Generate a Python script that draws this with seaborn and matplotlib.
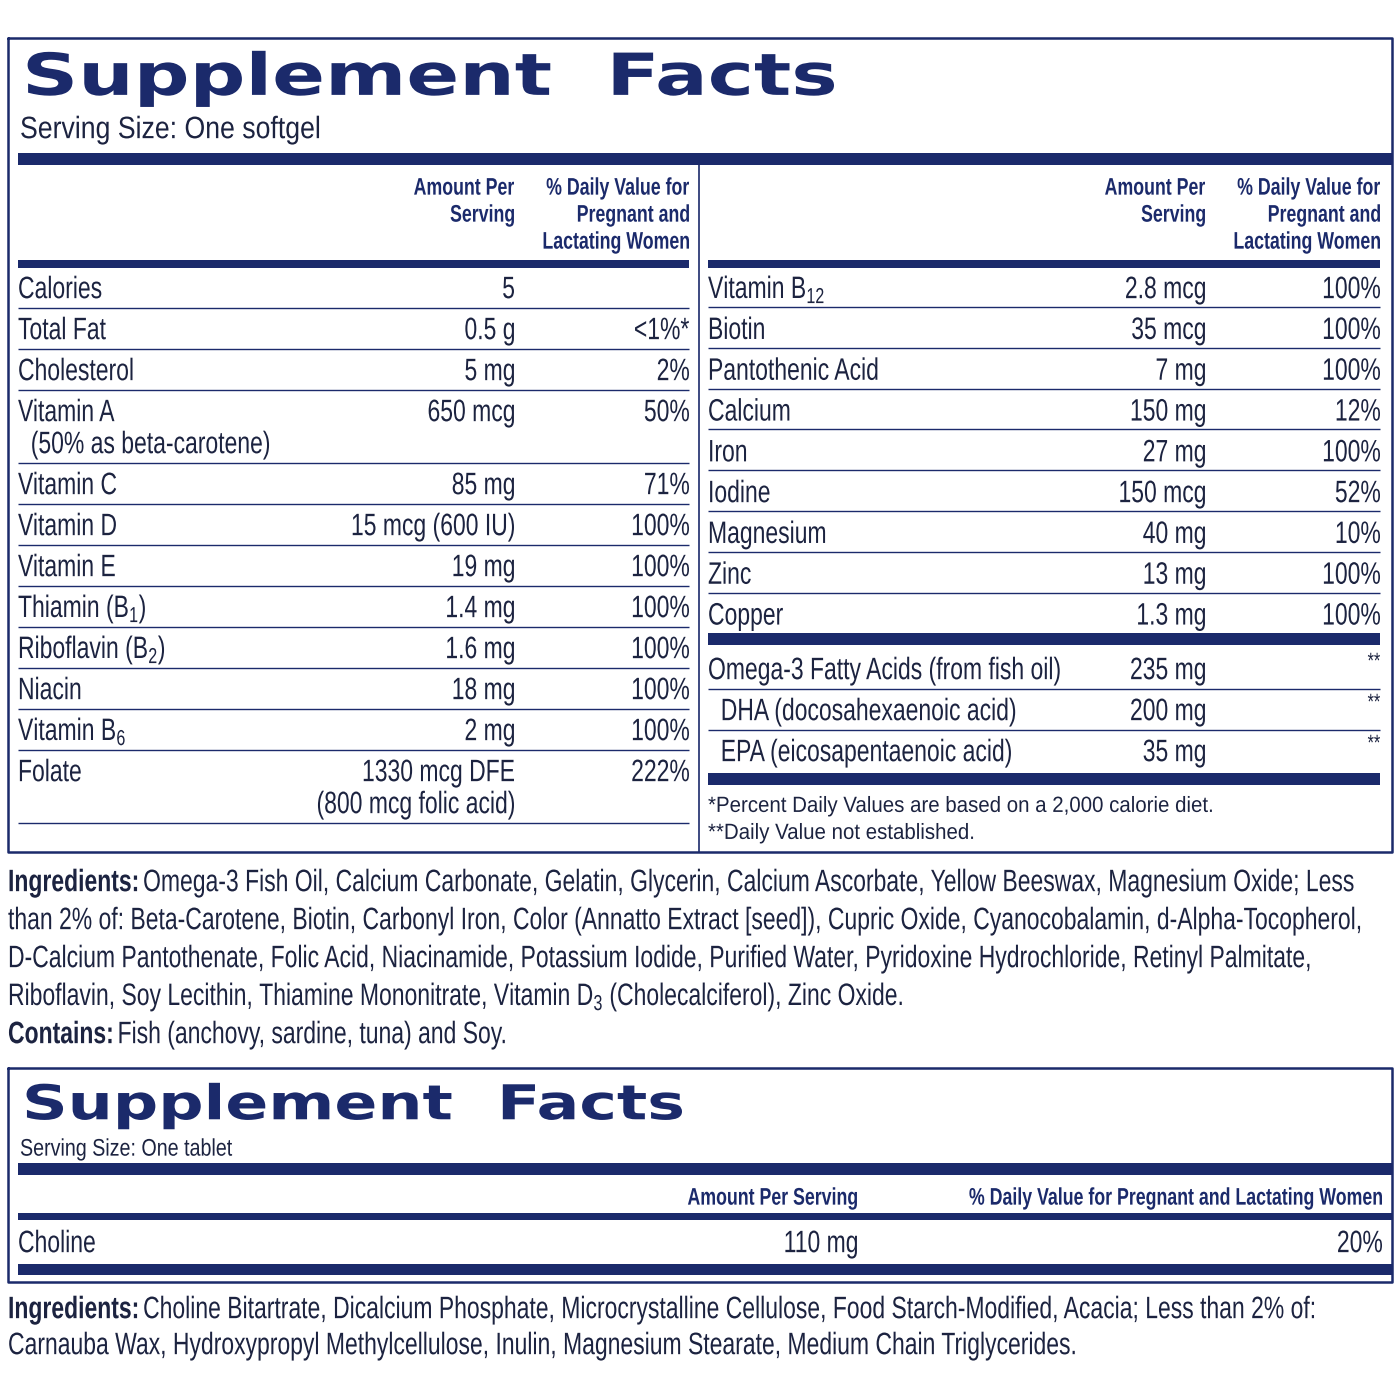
import matplotlib
matplotlib.use("Agg")
import matplotlib.pyplot as plt
import seaborn as sns
from matplotlib.textpath import TextPath
from matplotlib.patches import PathPatch
from matplotlib.font_manager import FontProperties
from matplotlib.transforms import Affine2D

sns.set_style("white")
plt.rcParams['font.family'] = ['Liberation Sans', 'DejaVu Sans']
plt.rcParams['mathtext.fontset'] = 'custom'
plt.rcParams['mathtext.rm'] = 'Liberation Sans'

NAVY = '#1b2a6b'
INK = '#1c2340'

# --- data ---
left_names = ['Calories', 'Total Fat', 'Cholesterol', 'Vitamin A\n  (50% as beta-carotene)', 'Vitamin C',
              'Vitamin D', 'Vitamin E', r'Thiamin (B$_1$)', r'Riboflavin (B$_2$)', 'Niacin',
              r'Vitamin B$_6$', 'Folate']
left_amounts = ['5', '0.5 g', '5 mg', '650 mcg', '85 mg', '15 mcg (600 IU)', '19 mg', '1.4 mg',
                '1.6 mg', '18 mg', '2 mg', '1330 mcg DFE\n(800 mcg folic acid)']
left_dv = ['', '<1%*', '2%', '50%', '71%', '100%', '100%', '100%', '100%', '100%', '100%', '222%']
left_lines = [1, 1, 1, 2, 1, 1, 1, 1, 1, 1, 1, 2]

right_names = [r'Vitamin B$_{12}$', 'Biotin', 'Pantothenic Acid', 'Calcium', 'Iron', 'Iodine',
               'Magnesium', 'Zinc', 'Copper']
right_amounts = ['2.8 mcg', '35 mcg', '7 mg', '150 mg', '27 mg', '150 mcg', '40 mg', '13 mg', '1.3 mg']
right_dv = ['100%', '100%', '100%', '12%', '100%', '52%', '10%', '100%', '100%']

omega_names = ['Omega-3 Fatty Acids (from fish oil)', '  DHA (docosahexaenoic acid)',
               '  EPA (eicosapentaenoic acid)']
omega_amounts = ['235 mg', '200 mg', '35 mg']
omega_dv = ['**', '**', '**']

footnotes = ['*Percent Daily Values are based on a 2,000 calorie diet.', '**Daily Value not established.']

ingredients1 = ['Omega-3 Fish Oil, Calcium Carbonate, Gelatin, Glycerin, Calcium Ascorbate, Yellow Beeswax, Magnesium Oxide; Less',
                'than 2% of: Beta-Carotene, Biotin, Carbonyl Iron, Color (Annatto Extract [seed]), Cupric Oxide, Cyanocobalamin, d-Alpha-Tocopherol,',
                'D-Calcium Pantothenate, Folic Acid, Niacinamide, Potassium Iodide, Purified Water, Pyridoxine Hydrochloride, Retinyl Palmitate,',
                r'Riboflavin, Soy Lecithin, Thiamine Mononitrate, Vitamin D$_3$ (Cholecalciferol), Zinc Oxide.']
contains = 'Fish (anchovy, sardine, tuna) and Soy.'

tablet_names = ['Choline']
tablet_amounts = ['110 mg']
tablet_dv = ['20%']
ingredients2 = ['Choline Bitartrate, Dicalcium Phosphate, Microcrystalline Cellulose, Food Starch-Modified, Acacia; Less than 2% of:',
                'Carnauba Wax, Hydroxypropyl Methylcellulose, Inulin, Magnesium Stearate, Medium Chain Triglycerides.']

fig = plt.figure(figsize=(14, 14), dpi=100)
ax = fig.add_axes([0, 0, 1, 1])
ax.set_xlim(0, 1400)
ax.set_ylim(1400, 0)
ax.axis('off')

SZ = 31      # body text size in pixels
SX = 0.74    # horizontal squeeze to mimic the condensed face
HS = 24      # header size


def path_of(s, size, weight, family):
    fp = FontProperties(family=family, weight=weight)
    return TextPath((0, 0), s, size=size, prop=fp)


def ctext(x, y, s, size=SZ, ha='left', weight='normal', color=INK, sx=SX,
          family='Liberation Sans', width=None):
    """Draw text as a path, squeezed horizontally; y is the vertical centre of caps."""
    p = path_of(s, size, weight, family)
    ext = p.get_extents()
    w = ext.x1
    if width is not None:
        sx = width / w
    w *= sx
    x0 = x - w if ha == 'right' else x
    tr = Affine2D().scale(sx, -1).translate(x0, y + 0.36 * size)
    ax.add_patch(PathPatch(tr.transform_path(p), fc=color, ec='none', lw=0))
    return x0 + w


def hline(y, x0, x1, lw=1.0):
    ax.plot([x0, x1], [y, y], color=NAVY, lw=lw, solid_capstyle='butt')


def bar(y0, y1, x0, x1):
    ax.fill_between([x0, x1], y0, y1, color=NAVY, lw=0)


def rect(x0, y0, x1, y1):
    ax.plot([x0, x1, x1, x0, x0], [y0, y0, y1, y1, y0], color=NAVY, lw=1.8)


# ---- box 1 ----
rect(8, 38, 1392, 852)
ctext(22, 74, 'Supplement  Facts', size=58, weight='heavy', color=NAVY, family='DejaVu Sans', width=812)
ctext(20, 127, 'Serving Size: One softgel', size=31, sx=0.86)
bar(153, 165, 18, 1392)
ax.plot([699, 699], [165, 852], color=NAVY, lw=1.2)

for xa, xd in [(514, 689), (1205, 1380)]:
    for k, s in enumerate(['Amount Per', 'Serving']):
        ctext(xa, 186 + 27 * k, s, size=HS, ha='right', weight='bold', color=NAVY)
    for k, s in enumerate(['% Daily Value for', 'Pregnant and', 'Lactating Women']):
        ctext(xd, 186 + 27 * k, s, size=HS, ha='right', weight='bold', color=NAVY)
bar(260, 268, 18, 689)
bar(260, 268, 708, 1380)

y = 287
for name, amt, dv, n in zip(left_names, left_amounts, left_dv, left_lines):
    for k, a in enumerate(name.split('\n')):
        ctext(18, y + 32 * k, a)
    for k, b in enumerate(amt.split('\n')):
        ctext(514, y + 32 * k, b, ha='right')
    if dv:
        ctext(689, y, dv, ha='right')
    y += 41 + 32 * (n - 1)
    hline(y - 20, 18, 689)

y = 287
for name, amt, dv in zip(right_names, right_amounts, right_dv):
    ctext(708, y, name)
    ctext(1205, y, amt, ha='right')
    ctext(1380, y, dv, ha='right')
    if name != right_names[-1]:
        hline(y + 20, 708, 1380)
    y += 40.8
bar(633, 645, 708, 1380)
y = 668
for i, (name, amt, dv) in enumerate(zip(omega_names, omega_amounts, omega_dv)):
    ctext(708, y, name)
    ctext(1205, y, amt, ha='right')
    ctext(1380, y - 8, dv, ha='right', size=22)
    if i < 2:
        hline(y + 21, 708, 1380)
    y += 41
bar(773, 785, 708, 1380)
for i, f in enumerate(footnotes):
    ctext(708, 804 + 27 * i, f, size=22, sx=0.93)

# ---- ingredients 1 ----
xe = ctext(8, 880, 'Ingredients:', weight='bold')
ctext(xe + 6, 880, ingredients1[0])
for i, line in enumerate(ingredients1[1:]):
    ctext(8, 918 + 38 * i, line)
xe = ctext(8, 1032, 'Contains:', weight='bold')
ctext(xe + 6, 1032, contains)

# ---- box 2 ----
rect(8, 1068, 1392, 1282)
ctext(22, 1102, 'Supplement  Facts', size=48, weight='heavy', color=NAVY, family='DejaVu Sans', width=660)
ctext(20, 1147, 'Serving Size: One tablet', size=24, sx=0.82)
bar(1163, 1175, 18, 1392)
ctext(857, 1196, 'Amount Per Serving', size=HS, ha='right', weight='bold', color=NAVY)
ctext(1382, 1196, '% Daily Value for Pregnant and Lactating Women', size=HS, ha='right', weight='bold', color=NAVY)
bar(1213, 1220, 18, 1392)
for name, amt, dv in zip(tablet_names, tablet_amounts, tablet_dv):
    ctext(18, 1241, name)
    ctext(857, 1241, amt, ha='right')
    ctext(1382, 1241, dv, ha='right')
bar(1264, 1275, 18, 1392)

xe = ctext(8, 1307, 'Ingredients:', weight='bold')
ctext(xe + 6, 1307, ingredients2[0])
ctext(8, 1343, ingredients2[1])

fig.savefig('out.png', dpi=100, facecolor='white')
